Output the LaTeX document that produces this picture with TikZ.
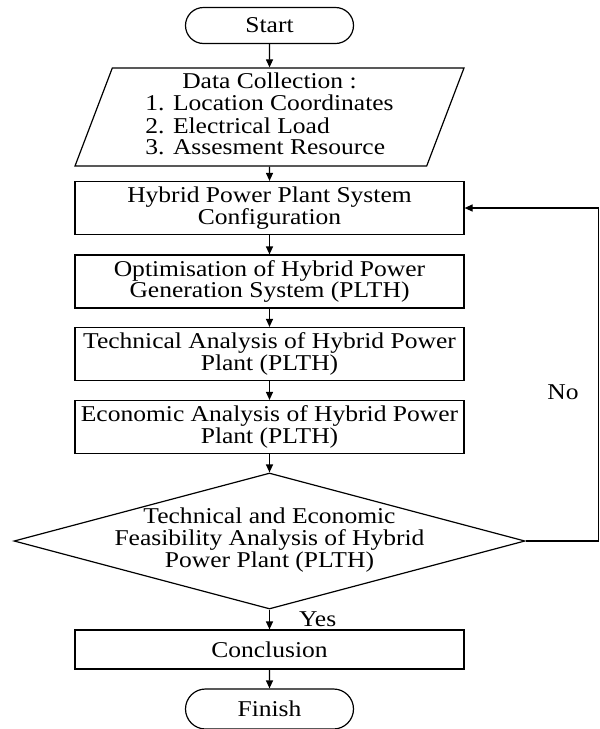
\documentclass[tikz,border=0pt]{standalone}
\usepackage{fontspec}
\setmainfont{Liberation Serif}[FakeStretch=1.13]
\usetikzlibrary{shapes.geometric, shapes.misc, positioning, arrows.meta}

\begin{document}
\begin{tikzpicture}[>={Triangle[length=8pt,width=7pt]}, line width=1.2pt, on grid, auto,
        font=\fontsize{22.6pt}{21.5pt}\selectfont,
        term/.style={rounded rectangle, draw, minimum width=168pt, minimum height=36pt, inner sep=0pt},
        io/.style={trapezium, trapezium left angle=67, trapezium right angle=113,
            trapezium stretches body, draw, minimum width=389pt, minimum height=98pt, inner sep=0pt},
        proc/.style={rectangle, draw, minimum width=389pt, minimum height=53pt, inner sep=0pt, align=center},
        decision/.style={diamond, draw, minimum width=511pt, minimum height=136pt, inner sep=0pt}]
            \useasboundingbox (0,0) rectangle (600pt,-729pt);
            \node[term] (start) at (269.5pt,-25.5pt) {Start};
            \node[io] (data) [below=91.5pt of start] {\begin{tabular}{@{}l@{}}
                \multicolumn{1}{@{}c@{}}{Data Collection :}\\
                1. Location Coordinates\\
                2. Electrical Load\\
                3. Assesment Resource\end{tabular}};
            \node[proc] (config) [below=91pt of data] {Hybrid Power Plant System\\Configuration};
            \node[proc] (optim) [below=73.5pt of config] {Optimisation of Hybrid Power\\Generation System (PLTH)};
            \node[proc] (tech) [below=72.5pt of optim] {Technical Analysis of Hybrid Power\\Plant (PLTH)};
            \node[proc] (econ) [below=73pt of tech] {Economic Analysis of Hybrid Power\\Plant (PLTH)};
            \node[decision] (feas) [below=114pt of econ] {\makebox[0pt]{\raisebox{-5pt}{\begin{tabular}{@{}c@{}}
                Technical and Economic\\
                Feasibility Analysis of Hybrid\\
                Power Plant (PLTH)\end{tabular}}}};
            \node[proc, minimum height=39pt] (concl) [below=108.5pt of feas] {Conclusion};
            \node[term, minimum height=40pt] (finish) [below=59.5pt of concl] {Finish};
            \coordinate (turn) at (598.5pt,-208pt);
            \node (no) at (563pt,-392pt) {No};
            \path[->]
                (start) edge (data)
                (data) edge (config)
                (config) edge (optim)
                (optim) edge (tech)
                (tech) edge (econ)
                (econ) edge (feas)
                (feas) edge node[right=29pt, inner sep=0pt] (yes) {Yes} (concl)
                (concl) edge (finish);
            \draw[->] (feas.east) -- (feas.east -| turn) -- (turn) -- (config.east);
        \end{tikzpicture}
\end{document}
